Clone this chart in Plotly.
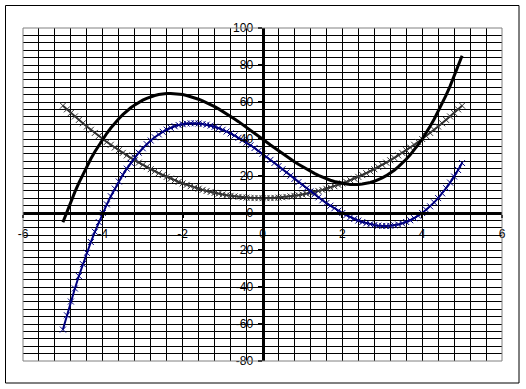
import plotly.graph_objects as go

x_vals = [-5.0, -4.9, -4.8, -4.7, -4.6, -4.5, -4.4, -4.3, -4.2, -4.1,
          -4.0, -3.9, -3.8, -3.7, -3.6, -3.5, -3.4, -3.3, -3.2, -3.1,
          -3.0, -2.9, -2.8, -2.7, -2.6, -2.5, -2.4, -2.3, -2.2, -2.1,
          -2.0, -1.9, -1.8, -1.7, -1.6, -1.5, -1.4, -1.3, -1.2, -1.1,
          -1.0, -0.9, -0.8, -0.7, -0.6, -0.5, -0.4, -0.3, -0.2, -0.1,
          0.0, 0.1, 0.2, 0.3, 0.4, 0.5, 0.6, 0.7, 0.8, 0.9,
          1.0, 1.1, 1.2, 1.3, 1.4, 1.5, 1.6, 1.7, 1.8, 1.9,
          2.0, 2.1, 2.2, 2.3, 2.4, 2.5, 2.6, 2.7, 2.8, 2.9,
          3.0, 3.1, 3.2, 3.3, 3.4, 3.5, 3.6, 3.7, 3.8, 3.9,
          4.0, 4.1, 4.2, 4.3, 4.4, 4.5, 4.6, 4.7, 4.8, 4.9, 5.0]

black_vals = [-5.0, 0.751, 6.208, 11.377, 16.264, 20.875, 25.216, 29.293, 33.112, 36.679,
              40.0, 43.081, 45.928, 48.547, 50.944, 53.125, 55.096, 56.863, 58.432, 59.809,
              61.0, 62.011, 62.848, 63.517, 64.024, 64.375, 64.576, 64.633, 64.552, 64.339,
              64.0, 63.541, 62.968, 62.287, 61.504, 60.625, 59.656, 58.603, 57.472, 56.269,
              55.0, 53.671, 52.288, 50.857, 49.384, 47.875, 46.336, 44.773, 43.192, 41.599,
              40.0, 38.401, 36.808, 35.227, 33.664, 32.125, 30.616, 29.143, 27.712, 26.329,
              25.0, 23.731, 22.528, 21.397, 20.344, 19.375, 18.496, 17.713, 17.032, 16.459,
              16.0, 15.661, 15.448, 15.367, 15.424, 15.625, 15.976, 16.483, 17.152, 17.989,
              19.0, 20.191, 21.568, 23.137, 24.904, 26.875, 29.056, 31.453, 34.072, 36.919,
              40.0, 43.321, 46.888, 50.707, 54.784, 59.125, 63.736, 68.623, 73.792, 79.249, 85.0]

gray_vals = [58.0, 56.02, 54.08, 52.18, 50.32, 48.5, 46.72, 44.98, 43.28, 41.62,
             40.0, 38.42, 36.88, 35.38, 33.92, 32.5, 31.12, 29.78, 28.48, 27.22,
             26.0, 24.82, 23.68, 22.58, 21.52, 20.5, 19.52, 18.58, 17.68, 16.82,
             16.0, 15.22, 14.48, 13.78, 13.12, 12.5, 11.92, 11.38, 10.88, 10.42,
             10.0, 9.62, 9.28, 8.98, 8.72, 8.5, 8.32, 8.18, 8.08, 8.02,
             8.0, 8.02, 8.08, 8.18, 8.32, 8.5, 8.72, 8.98, 9.28, 9.62,
             10.0, 10.42, 10.88, 11.38, 11.92, 12.5, 13.12, 13.78, 14.48, 15.22,
             16.0, 16.82, 17.68, 18.58, 19.52, 20.5, 21.52, 22.58, 23.68, 24.82,
             26.0, 27.22, 28.48, 29.78, 31.12, 32.5, 33.92, 35.38, 36.88, 38.42,
             40.0, 41.62, 43.28, 44.98, 46.72, 48.5, 50.32, 52.18, 54.08, 56.02, 58.0]

blue_vals = [-63.0, -55.269, -47.872, -40.803, -34.056, -27.625, -21.504, -15.687, -10.168, -4.941,
             0.0, 4.661, 9.048, 13.167, 17.024, 20.625, 23.976, 27.083, 29.952, 32.589,
             35.0, 37.191, 39.168, 40.937, 42.504, 43.875, 45.056, 46.053, 46.872, 47.519,
             48.0, 48.321, 48.488, 48.507, 48.384, 48.125, 47.736, 47.223, 46.592, 45.849,
             45.0, 44.051, 43.008, 41.877, 40.664, 39.375, 38.016, 36.593, 35.112, 33.579,
             32.0, 30.381, 28.728, 27.047, 25.344, 23.625, 21.896, 20.163, 18.432, 16.709,
             15.0, 13.311, 11.648, 10.017, 8.424, 6.875, 5.376, 3.933, 2.552, 1.239,
             0.0, -1.159, -2.232, -3.213, -4.096, -4.875, -5.544, -6.097, -6.528, -6.831,
             -7.0, -7.029, -6.912, -6.643, -6.216, -5.625, -4.864, -3.927, -2.808, -1.501,
             0.0, 1.701, 3.608, 5.727, 8.064, 10.625, 13.416, 16.443, 19.712, 23.229, 27.0]

x_ticks = [-6, -4, -2, 0, 2, 4, 6]
y_ticks = [-80, -60, -40, -20, 0, 20, 40, 60, 80, 100]

fig = go.Figure()
fig.add_trace(go.Scatter(x=x_vals, y=gray_vals, mode="lines+markers",
                         line=dict(color="#333333", width=2),
                         marker=dict(symbol="x-thin", size=6, line=dict(color="#333333", width=1))))
fig.add_trace(go.Scatter(x=x_vals, y=blue_vals, mode="lines+markers",
                         line=dict(color="#000080", width=2),
                         marker=dict(symbol="x-thin", size=6, line=dict(color="#000080", width=1))))
fig.add_trace(go.Scatter(x=x_vals, y=black_vals, mode="lines",
                         line=dict(color="#000000", width=3)))

font = dict(family="Liberation Sans, Arial, sans-serif", size=12, color="#000000")

fig.update_layout(
    width=526, height=389,
    margin=dict(l=23, r=24, t=28, b=28),
    paper_bgcolor="white", plot_bgcolor="white",
    showlegend=False,
    font=font,
    xaxis=dict(range=[-6, 6], tickvals=x_ticks, ticktext=[str(v) for v in x_ticks],
               anchor="free", position=80 / 180,
               showline=True, linecolor="black", linewidth=3,
               ticks="outside", ticklen=3, tickwidth=2, tickcolor="black",
               ticklabelstandoff=6,
               showgrid=True, gridcolor="black", gridwidth=1, zeroline=False,
               minor=dict(dtick=0.4, tick0=-6, showgrid=True, gridcolor="black", gridwidth=1, ticks=""),
               tickfont=font, fixedrange=True),
    yaxis=dict(range=[-80, 100], tickvals=y_ticks, ticktext=[str(v) for v in y_ticks],
               anchor="free", position=0.5,
               showline=True, linecolor="black", linewidth=3,
               ticks="outside", ticklen=4, tickwidth=2, tickcolor="black",
               ticklabelstandoff=2,
               showgrid=True, gridcolor="black", gridwidth=1, zeroline=False,
               minor=dict(dtick=4, tick0=-80, showgrid=True, gridcolor="black", gridwidth=1, ticks=""),
               tickfont=font, fixedrange=True),
    shapes=[
        dict(type="rect", xref="x domain", yref="y domain", x0=0, x1=1, y0=0, y1=1,
             line=dict(color="#808080", width=1), layer="above"),
        dict(type="rect", xref="paper", yref="paper",
             x0=(5.5 - 23) / 479, x1=(519 - 23) / 479,
             y0=(361 - 383) / 333, y1=(361 - 5.5) / 333,
             line=dict(color="black", width=1), layer="above"),
    ],
)

fig.write_html("out.html")
